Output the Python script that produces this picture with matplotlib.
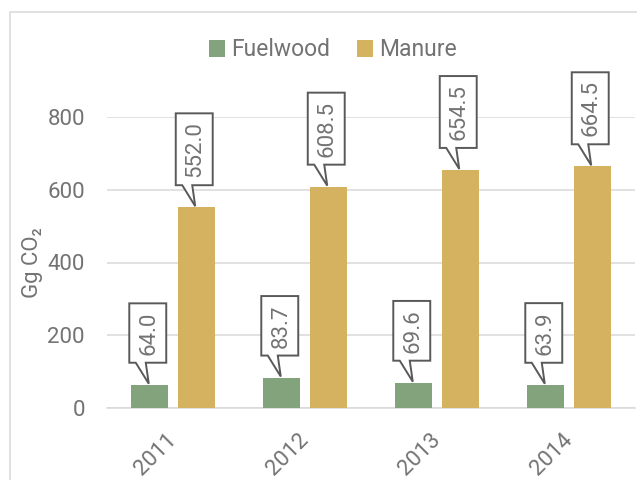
import matplotlib
matplotlib.use('Agg')
import matplotlib.pyplot as plt
from matplotlib.patches import Polygon, Rectangle
from matplotlib.transforms import IdentityTransform
import numpy as np

years = ['2011', '2012', '2013', '2014']
fuelwood = [64.0, 83.7, 69.6, 63.9]
manure = [552.0, 608.5, 654.5, 664.5]
series_names = ['Fuelwood', 'Manure']
yticks = [0, 200, 400, 600, 800]
ylabel = 'Gg CO\u2082'

GREEN = '#83A37C'
GOLD = '#D4B25F'
TXT = '#737373'
BOX = '#595959'
GRID = '#D9D9D9'
FS = 16

plt.rcParams['font.family'] = ['Roboto', 'DejaVu Sans']
plt.rcParams['font.weight'] = 'normal'

fig = plt.figure(figsize=(6.37, 4.8), dpi=100)
ax = fig.add_axes([107/637, 1-408/480, 528/637, 291/480])

x = np.arange(len(years))
bw = 0.28
off = 0.176
b1 = ax.bar(x - off, fuelwood, bw, color=GREEN, label=series_names[0], zorder=3)
b2 = ax.bar(x + off, manure, bw, color=GOLD, label=series_names[1], zorder=3)

ax.set_xlim(-0.5, len(years) - 0.5)
ax.set_ylim(0, 800)
ax.set_yticks(yticks)
ax.set_yticklabels([str(v) for v in yticks])
ax.set_xticks(x)
ax.set_xticklabels(years)
for s in ['top', 'right', 'left']:
    ax.spines[s].set_visible(False)
ax.spines['bottom'].set_color(GRID)
ax.spines['bottom'].set_linewidth(1.1)
ax.grid(axis='y', color=GRID, lw=1.1, zorder=0)
ax.set_axisbelow(True)
ax.tick_params(axis='both', length=0, labelsize=FS, colors=TXT)
ax.tick_params(axis='y', pad=16)
ax.tick_params(axis='x', pad=21)
for lab in ax.get_xticklabels():
    lab.set_rotation(45)
    lab.set_ha('right')
    lab.set_va('center')
    lab.set_rotation_mode('anchor')

ax.set_ylabel(ylabel, fontsize=FS, color=TXT)
ax.yaxis.set_label_coords((43-107)/528, 0.5)

leg = fig.legend(handles=[b1, b2], loc='center', bbox_to_anchor=(333/637, 1-50/480),
                 ncol=2, frameon=False, fontsize=16.5, handlelength=0.7, handleheight=0.7,
                 handletextpad=0.25, columnspacing=1.2)
for t in leg.get_texts():
    t.set_color(TXT)

fig.add_artist(Rectangle((10/637, -0.5), 2, (1-12/480) + 0.5, transform=fig.transFigure,
                         fill=False, ec=GRID, lw=1.1))

GAP = 22
PADV = 8
texts = []
points = []
for xs, vals in [(x - off, fuelwood), (x + off, manure)]:
    for xi, v in zip(xs, vals):
        t = ax.annotate(f'{v:.1f}', xy=(xi, v), xytext=(-1, GAP + PADV), textcoords='offset pixels',
                        rotation=90, ha='center', va='bottom', fontsize=FS, color=TXT,
                        zorder=7, annotation_clip=False)
        texts.append(t)
        points.append((xi, v))

fig.canvas.draw()
renderer = fig.canvas.get_renderer()
bw_px = ax.transData.transform((bw, 0))[0] - ax.transData.transform((0, 0))[0]
for t, (xi, v) in zip(texts, points):
    bb = t.get_window_extent(renderer)
    tx, ty = ax.transData.transform((xi, v))
    bottom = ty + GAP
    top = bb.y1 + PADV
    cx = tx - 2
    L = cx - bw_px / 2
    R = cx + bw_px / 2
    verts = [(L, bottom), (cx - 12, bottom), (tx - 1, ty + 1), (cx - 2, bottom), (R, bottom), (R, top), (L, top)]
    poly = Polygon(verts, closed=True, fc='white', ec=BOX, lw=1.4, transform=IdentityTransform(),
                   zorder=6, clip_on=False, joinstyle='miter')
    ax.add_artist(poly)

fig.savefig('out.png', dpi=100)
